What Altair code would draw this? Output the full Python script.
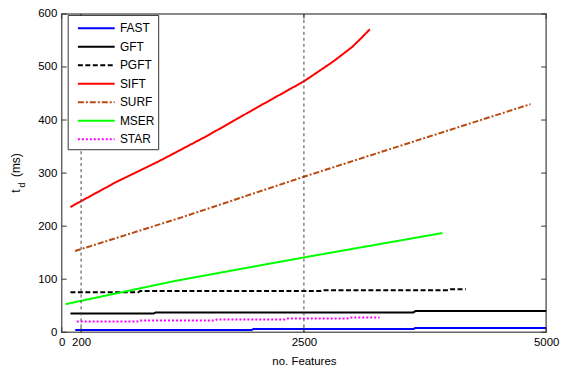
import altair as alt
import pandas as pd

# ---------------- data ----------------
series = ["FAST", "GFT", "PGFT", "SIFT", "SURF", "MSER", "STAR"]
colors = ["#0000ff", "#000000", "#000000", "#ff0000", "#b84a12", "#00ff00", "#ff00ff"]
dashes = [[1, 0], [1, 0], [5, 2.5], [1, 0], [6, 2, 2, 2], [1, 0], [2, 2]]

fast_x = [140, 1960, 1980, 3630, 3650, 5000]
fast_y = [4.3, 4.3, 6.1, 6.1, 8.0, 8.0]

gft_x = [90, 950, 970, 3630, 3650, 5000]
gft_y = [35.5, 35.5, 37.3, 37.3, 39.8, 39.8]

pgft_x = [90, 790, 810, 2670, 2690, 3990, 4010, 4170]
pgft_y = [75.3, 75.3, 77.6, 77.6, 79.0, 79.0, 81.2, 81.2]

sift_x = [89, 561, 1000, 1500, 2000, 2500, 2800, 3000, 3100, 3180]
sift_y = [236, 283, 322, 370, 422, 473, 510, 538, 556, 571]

surf_x = [137, 1246, 2498, 3641, 4839]
surf_y = [153, 217, 293, 360, 430]

mser_x = [40, 1178, 2500, 3930]
mser_y = [53, 97, 141, 187]

star_x = [155, 780, 800, 1580, 1600, 2300, 2320, 2950, 2970, 3280]
star_y = [20.2, 20.2, 22.0, 22.0, 23.9, 23.9, 25.7, 25.7, 27.6, 27.6]

x_ticks = [0, 200, 2500, 5000]
y_ticks = [0, 100, 200, 300, 400, 500, 600]
v_lines = [200, 2500]

xs = [fast_x, gft_x, pgft_x, sift_x, surf_x, mser_x, star_x]
ys = [fast_y, gft_y, pgft_y, sift_y, surf_y, mser_y, star_y]

rows = []
for name, sx, sy in zip(series, xs, ys):
    for i, (a, b) in enumerate(zip(sx, sy)):
        rows.append({"series": name, "x": a, "y": b, "i": i})
df = pd.DataFrame(rows)

# ---------------- layout ----------------
W, H = 487, 320
FONT = "Liberation Sans"

xscale = alt.Scale(domain=[0, 5000], nice=False, zero=False)
yscale = alt.Scale(domain=[0, 600], nice=False, zero=False)
xaxis = alt.Axis(values=x_ticks, title="no. Features", labelOverlap=False,
                 labelFlush=False, titlePadding=8, format="d")
yaxis = alt.Axis(values=y_ticks, title=None, labelOverlap=False, labelFlush=False, format="d")

legend = alt.Legend(
    title=None, orient="none", legendX=6, legendY=1,
    fillColor="white", strokeColor="#333333", padding=3,
    symbolType="M-0.35,0H3.65", symbolSize=342, symbolStrokeWidth=2,
    labelFontSize=12, labelFont=FONT, labelColor="#000000",
    labelOffset=28.5, rowPadding=1.6,
    labelExpr="datum.label + '\u00a0\u00a0\u00a0'",
)

lines = alt.Chart(df).mark_line(strokeWidth=2, strokeCap="butt").encode(
    x=alt.X("x:Q", scale=xscale, axis=xaxis),
    y=alt.Y("y:Q", scale=yscale, axis=yaxis),
    color=alt.Color("series:N", scale=alt.Scale(domain=series, range=colors), legend=legend),
    strokeDash=alt.StrokeDash("series:N", scale=alt.Scale(domain=series, range=dashes), legend=legend),
    order=alt.Order("i:Q"),
)

vl = alt.Chart(pd.DataFrame({"x": v_lines})).mark_rule(
    color="#444444", strokeWidth=1, strokeDash=[3, 3]
).encode(x=alt.X("x:Q", scale=xscale, axis=xaxis), y=alt.value(0), y2=alt.value(H))

ytick_df = pd.DataFrame({"y": y_ticks})
xtick_df = pd.DataFrame({"x": x_ticks})
tick_col = "#333333"
yt_left = alt.Chart(ytick_df).mark_rule(color=tick_col).encode(
    y=alt.Y("y:Q", scale=yscale, axis=yaxis), x=alt.value(0), x2=alt.value(5))
yt_right = alt.Chart(ytick_df).mark_rule(color=tick_col).encode(
    y=alt.Y("y:Q", scale=yscale, axis=yaxis), x=alt.value(W - 5), x2=alt.value(W))
xt_bot = alt.Chart(xtick_df).mark_rule(color=tick_col).encode(
    x=alt.X("x:Q", scale=xscale, axis=xaxis), y=alt.value(H - 5), y2=alt.value(H))
xt_top = alt.Chart(xtick_df).mark_rule(color=tick_col).encode(
    x=alt.X("x:Q", scale=xscale, axis=xaxis), y=alt.value(0), y2=alt.value(5))

ylab = pd.DataFrame({"t": ["t"], "d": ["d"], "ms": ["(ms)"]})
t_main = alt.Chart(ylab).mark_text(angle=270, align="center", baseline="middle",
                                   font=FONT, fontSize=12, color="#000000").encode(
    text="t:N", x=alt.value(-46), y=alt.value(178))
t_sub = alt.Chart(ylab).mark_text(angle=270, align="center", baseline="middle",
                                  font=FONT, fontSize=9, color="#000000").encode(
    text="d:N", x=alt.value(-40), y=alt.value(172))
t_ms = alt.Chart(ylab).mark_text(angle=270, align="center", baseline="middle",
                                 font=FONT, fontSize=12, color="#000000").encode(
    text="ms:N", x=alt.value(-46), y=alt.value(152))

chart = alt.layer(lines, vl, yt_left, yt_right, xt_bot, xt_top, t_main, t_sub, t_ms).properties(
    width=W, height=H,
    autosize=alt.AutoSizeParams(type="none"),
    padding={"left": 54, "top": 5, "right": 25, "bottom": 35},
).configure_view(
    stroke="#666666", strokeWidth=1.5
).configure_axis(
    domain=False, ticks=False, grid=False,
    labelFont=FONT, labelFontSize=11.5, labelColor="#000000", labelPadding=4,
    titleFont=FONT, titleFontSize=11.5, titleFontWeight="normal", titleColor="#000000",
).configure_axisY(labelPadding=5)

chart.save("out.html", embed_options={"renderer": "svg", "actions": False})
